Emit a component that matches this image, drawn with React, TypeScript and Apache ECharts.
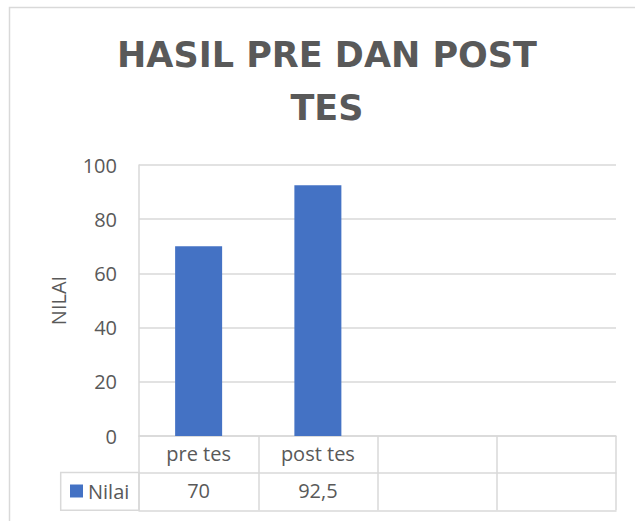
import React, { useEffect, useRef } from "react";
import * as echarts from "echarts";

const categories = ["pre tes", "post tes", "", ""];
const values = [70, 92.5];
const seriesName = "Nilai";
const yTicks = { min: 0, max: 100, interval: 20 };
const titleText = "HASIL PRE DAN POST\nTES";
const yAxisName = "NILAI";

const fmt = (v: number | undefined | null) =>
  v == null ? "" : String(v).replace(".", ",");

const GRID_L = 139;
const GRID_T = 165;
const GRID_R = 635 - 616;
const GRID_B = 521 - 436;
const LINE = "#d9d9d9";
const TXT = "#595959";
const FONT = "Open Sans";

export default function App() {
  const ref = useRef<HTMLDivElement>(null);
  useEffect(() => {
    if (!ref.current) return;
    const chart = echarts.init(ref.current, undefined, { renderer: "svg" });
    chart.setOption({
      animation: false,
      backgroundColor: "#ffffff",
      title: {
        text: titleText,
        left: 327,
        top: 28,
        textAlign: "center",
        padding: 0,
        textStyle: {
          fontFamily: "DejaVu Sans",
          fontWeight: "bold",
          fontSize: 35,
          lineHeight: 53,
          color: TXT,
        },
      },
      legend: {
        data: [seriesName],
        left: 70,
        top: 481,
        padding: 0,
        icon: "rect",
        itemWidth: 13,
        itemHeight: 13,
        itemGap: 5,
        textStyle: { fontFamily: FONT, fontSize: 20, color: TXT },
      },
      grid: { left: GRID_L, top: GRID_T, right: GRID_R, bottom: GRID_B },
      xAxis: [
        {
          type: "category",
          data: categories,
          position: "bottom",
          axisLine: { show: true, lineStyle: { color: LINE, width: 1.5 } },
          axisTick: {
            show: true,
            interval: 0,
            length: 74.3,
            lineStyle: { color: LINE, width: 1.5 },
          },
          axisLabel: {
            interval: 0,
            margin: 7,
            fontFamily: FONT,
            fontSize: 20,
            color: TXT,
          },
          splitLine: { show: false },
        },
        {
          type: "category",
          data: categories,
          position: "bottom",
          offset: 36.5,
          axisLine: { show: true, lineStyle: { color: LINE, width: 1.5 } },
          axisTick: { show: false },
          axisLabel: {
            interval: 0,
            margin: 7.5,
            fontFamily: FONT,
            fontSize: 20,
            color: TXT,
            formatter: (_v: string, i: number) => fmt(values[i]),
          },
          splitLine: { show: false },
        },
        {
          type: "category",
          data: categories,
          position: "bottom",
          offset: 74.3,
          axisLine: { show: true, lineStyle: { color: LINE, width: 1.5 } },
          axisTick: { show: false },
          axisLabel: { show: false },
          splitLine: { show: false },
        },
      ],
      yAxis: {
        type: "value",
        min: yTicks.min,
        max: yTicks.max,
        interval: yTicks.interval,
        name: yAxisName,
        nameLocation: "middle",
        nameRotate: 90,
        nameGap: 70.5,
        nameTextStyle: { fontFamily: FONT, fontSize: 20, color: TXT },
        axisLine: { show: true, lineStyle: { color: LINE, width: 1.5 } },
        axisTick: { show: false },
        axisLabel: { margin: 22, fontFamily: FONT, fontSize: 20, color: TXT },
        splitLine: { show: true, lineStyle: { color: LINE, width: 1.5 } },
      },
      series: [
        {
          name: seriesName,
          type: "bar",
          data: values,
          barWidth: 47,
          itemStyle: { color: "#4472C4" },
        },
      ],
      graphic: [
        {
          type: "rect",
          shape: { x: 9.5, y: 7.5, width: 700, height: 600 },
          style: { fill: "none", stroke: LINE, lineWidth: 1.5 },
          silent: true,
          z: -1,
        },
        {
          type: "rect",
          shape: { x: 60.7, y: 472.5, width: 78.3, height: 37.8 },
          style: { fill: "none", stroke: LINE, lineWidth: 1.5 },
          silent: true,
        },
      ],
    });
    return () => chart.dispose();
  }, []);
  return (
    <div
      ref={ref}
      style={{ position: "absolute", left: 0, top: 0, width: 635, height: 521 }}
    />
  );
}
